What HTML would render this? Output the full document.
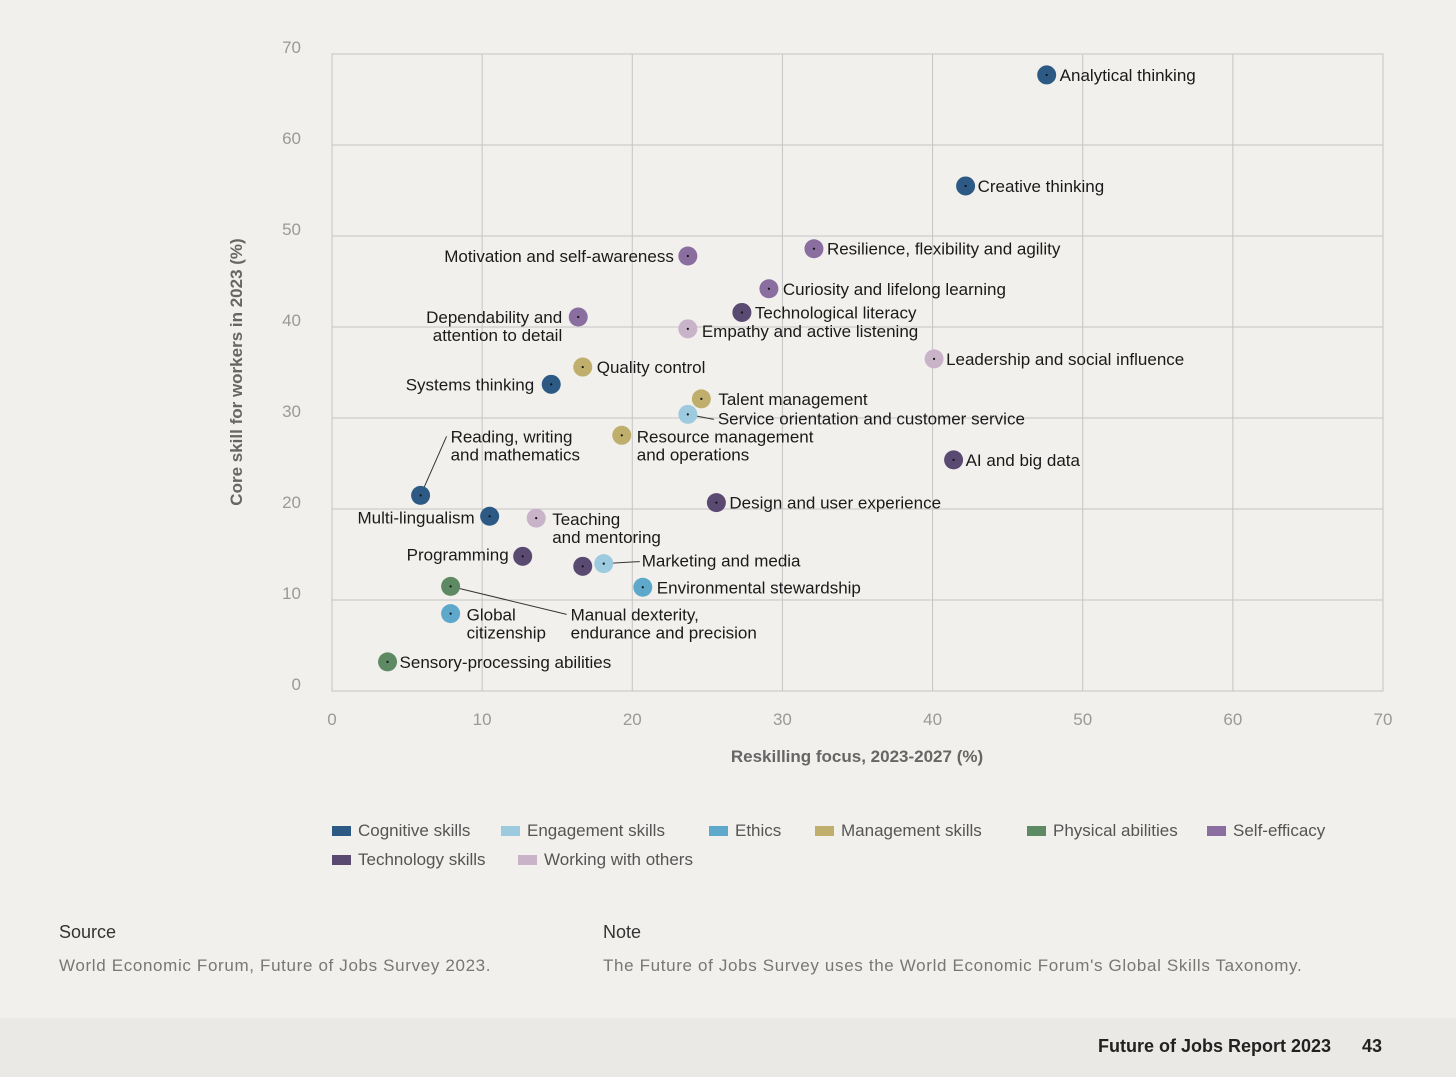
<!DOCTYPE html>
<html><head><meta charset="utf-8">
<style>
html,body{margin:0;padding:0;background:#f2f0ec;}
body{width:1456px;height:1077px;position:relative;overflow:hidden;font-family:"Liberation Sans",sans-serif;}
.lg{position:absolute;font-size:17px;color:#555;display:flex;align-items:center;}
.lg i{display:inline-block;width:19px;height:10px;margin-right:7px;}
.t{position:absolute;color:#333;}
</style></head><body>
<svg id="chart" width="1456" height="800" style="position:absolute;left:0;top:0" font-family="Liberation Sans, sans-serif"></svg>

<div class="lg" style="left:332px;top:821px"><i style="background:#2d5a84"></i>Cognitive skills</div>
<div class="lg" style="left:501px;top:821px"><i style="background:#9ccadf"></i>Engagement skills</div>
<div class="lg" style="left:709px;top:821px"><i style="background:#5ea8cc"></i>Ethics</div>
<div class="lg" style="left:815px;top:821px"><i style="background:#bfae6c"></i>Management skills</div>
<div class="lg" style="left:1027px;top:821px"><i style="background:#5e8a63"></i>Physical abilities</div>
<div class="lg" style="left:1207px;top:821px"><i style="background:#8a6ea0"></i>Self-efficacy</div>
<div class="lg" style="left:332px;top:850px"><i style="background:#5a4a72"></i>Technology skills</div>
<div class="lg" style="left:518px;top:850px"><i style="background:#c9b3c9"></i>Working with others</div>

<div class="t" style="left:59px;top:922px;font-size:18px">Source</div>
<div class="t" style="left:59px;top:956px;font-size:17px;color:#777;letter-spacing:0.65px">World Economic Forum, Future of Jobs Survey 2023.</div>
<div class="t" style="left:603px;top:922px;font-size:18px">Note</div>
<div class="t" style="left:603px;top:956px;font-size:17px;color:#777;letter-spacing:0.65px">The Future of Jobs Survey uses the World Economic Forum's Global Skills Taxonomy.</div>
<div style="position:absolute;left:0;top:1018px;width:1456px;height:59px;background:#ebe9e5"></div>
<div class="t" style="left:1098px;top:1036px;font-size:18px;font-weight:bold;color:#222">Future of Jobs Report 2023</div>
<div class="t" style="left:1362px;top:1036px;font-size:18px;font-weight:bold;color:#222">43</div>

<script>
const names=["Analytical thinking","Creative thinking","Resilience, flexibility and agility","Motivation and self-awareness","Curiosity and lifelong learning","Technological literacy","Empathy and active listening","Dependability and|attention to detail","Leadership and social influence","Quality control","Systems thinking","Talent management","Service orientation and customer service","Resource management|and operations","AI and big data","Reading, writing|and mathematics","Design and user experience","Multi-lingualism","Teaching|and mentoring","Programming","","Marketing and media","Environmental stewardship","Manual dexterity,|endurance and precision","Global|citizenship","Sensory-processing abilities"];
const reskill=[47.6,42.2,32.1,23.7,29.1,27.3,23.7,16.4,40.1,16.7,14.6,24.6,23.7,19.3,41.4,5.9,25.6,10.5,13.6,12.7,16.7,18.1,20.7,7.9,7.9,3.7];
const core=[67.7,55.5,48.6,47.8,44.2,41.6,39.8,41.1,36.5,35.6,33.7,32.1,30.4,28.1,25.4,21.5,20.7,19.2,19.0,14.8,13.7,14.0,11.4,11.5,8.5,3.2];
const group=["cog","cog","self","self","self","tech","work","self","work","mgmt","cog","mgmt","eng","mgmt","tech","cog","tech","cog","work","tech","tech","eng","eth","phys","eth","phys"];
const xTicks=[0,10,20,30,40,50,60,70];
const yTicks=[0,10,20,30,40,50,60,70];
// label layout: [dx, dy, anchor, leaderX, leaderY] (leader end relative to text origin)
const layout=[[13,6,"start"],[12,6,"start"],[13,6,"start"],[-14,6,"end"],[14,6,"start"],[13,6,"start"],[14,8,"start"],[-16,6,"end"],[12,6,"start"],[14,6,"start"],[-17,6,"end"],[17,6,"start"],[30,10,"start",-4,-5],[15,7,"start"],[12,6,"start"],[30,-53,"start",-4,-6],[13,6,"start"],[-15,7,"end"],[16,7,"start"],[-14,4,"end"],[0,0,"start"],[38,3,"start",-2,-5],[14,6,"start"],[120,34,"start",-4,-6],[16,7,"start"],[12,6,"start"]];
const colors={cog:"#2d5a84",eng:"#9ccadf",eth:"#5ea8cc",mgmt:"#bfae6c",phys:"#5e8a63",self:"#8a6ea0",tech:"#5a4a72",work:"#c9b3c9"};
const L=332,R=1383,T=54,B=691;
const sx=v=>L+(R-L)*v/70, sy=v=>B-(B-T)*v/70;
const svg=document.getElementById('chart');const NS="http://www.w3.org/2000/svg";
function mk(tag,a,p){const e=document.createElementNS(NS,tag);for(const k in a)e.setAttribute(k,a[k]);(p||svg).appendChild(e);return e;}
mk('rect',{x:L,y:T,width:R-L,height:B-T,fill:'none',stroke:'#b8b8b8','stroke-width':1});
xTicks.forEach(v=>{const l=mk('line',{x1:sx(v),x2:sx(v),y1:T,y2:B,stroke:'#c4c4c4'});


const t=mk('text',{x:sx(v),y:B+34,'text-anchor':'middle','font-size':17,fill:'#999'});t.textContent=v;

});
yTicks.forEach(v=>{const l=mk('line',{x1:L,x2:R,y1:sy(v),y2:sy(v),stroke:'#c4c4c4'});


const t=mk('text',{x:301,y:sy(v)+6-7,'text-anchor':'end','font-size':17,fill:'#999'});t.textContent=v;

});
const xt=mk('text',{x:857,y:762,'text-anchor':'middle','font-size':17,'font-weight':'bold',fill:'#666'});xt.textContent='Reskilling focus, 2023-2027 (%)';


const yt=mk('text',{x:0,y:0,transform:'translate(242,372) rotate(-90)','text-anchor':'middle','font-size':17,'font-weight':'bold',fill:'#666'});yt.textContent='Core skill for workers in 2023 (%)';


names.forEach((n,i)=>{const cx=sx(reskill[i]),cy=sy(core[i]);const ly=layout[i];
const g=mk('g',{});


const tx=cx+ly[0],ty=cy+ly[1];
if(ly.length>3){mk('line',{x1:cx,y1:cy,x2:tx+ly[3],y2:ty+ly[4],stroke:'#333','stroke-width':1},g);}
mk('circle',{cx:cx,cy:cy,r:9.5,fill:colors[group[i]]},g);
mk('circle',{cx:cx,cy:cy,r:1.1,fill:'#111'},g);
if(n){n.split('|').forEach((s,j)=>{const t=mk('text',{x:tx,y:ty+j*18,'text-anchor':ly[2],'font-size':17,fill:'#1a1a1a'},g);t.textContent=s;});}
});
</script>
</body></html>
